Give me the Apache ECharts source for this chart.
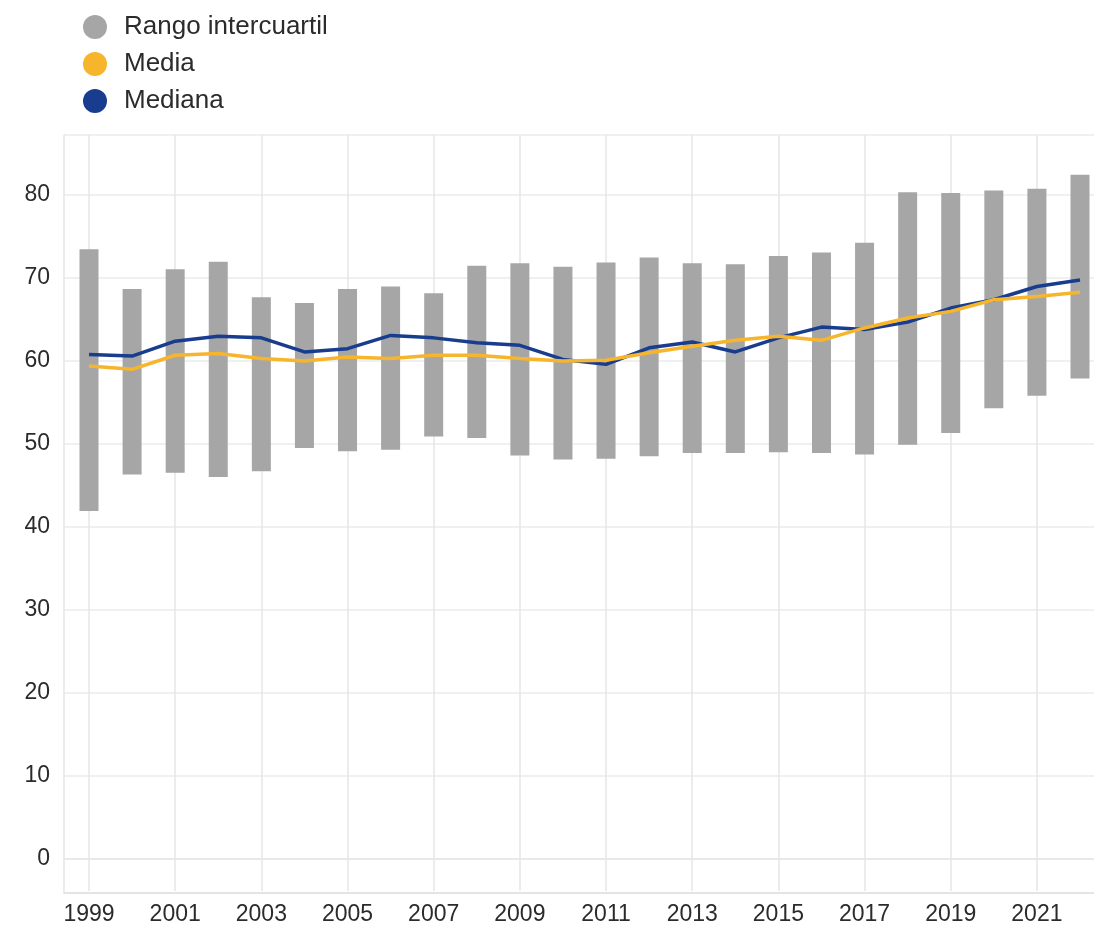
<!DOCTYPE html>
<html>
<head>
<meta charset="utf-8">
<script src="https://cdn.jsdelivr.net/npm/echarts@6/dist/echarts.min.js"></script>
<style>
  html, body { margin: 0; padding: 0; background: #fff; }
  #chart { width: 1094px; height: 926px; }
</style>
</head>
<body>
<div id="chart"></div>
<script>
// years on the x axis
var years = ['1999','2000','2001','2002','2003','2004','2005','2006','2007','2008','2009','2010',
             '2011','2012','2013','2014','2015','2016','2017','2018','2019','2020','2021','2022'];
// interquartile range: lower and upper quartile
var q1 = [41.8, 46.2, 46.4, 45.9, 46.6, 49.4, 49.0, 49.2, 50.8, 50.6, 48.5, 48.0,
          48.1, 48.4, 48.8, 48.8, 48.9, 48.8, 48.6, 49.8, 51.2, 54.2, 55.7, 57.8];
var q3 = [73.4, 68.6, 71.0, 71.9, 67.6, 66.9, 68.6, 68.9, 68.1, 71.4, 71.7, 71.3,
          71.8, 72.4, 71.7, 71.6, 72.6, 73.0, 74.2, 80.3, 80.2, 80.5, 80.7, 82.4];
// mean and median
var media = [59.3, 58.9, 60.6, 60.8, 60.2, 59.9, 60.4, 60.2, 60.6, 60.6, 60.2, 59.9,
             60.0, 60.9, 61.7, 62.4, 62.9, 62.4, 63.9, 65.1, 65.9, 67.3, 67.7, 68.2];
var mediana = [60.7, 60.5, 62.3, 62.9, 62.7, 61.0, 61.4, 63.0, 62.7, 62.1, 61.8, 60.1,
               59.5, 61.5, 62.2, 61.0, 62.7, 64.0, 63.7, 64.6, 66.3, 67.3, 68.9, 69.7];

var rango = q3.map(function (v, i) { return +(v - q1[i]).toFixed(1); });

var chart = echarts.init(document.getElementById('chart'));

var lab = { fontFamily: 'Liberation Sans, Arial, sans-serif', fontSize: 23, color: '#2b2b2b' };

option = {
    backgroundColor: '#fff',
    animation: false,
    legend: {
        orient: 'vertical',
        left: 78,
        top: 9,
        icon: 'circle',
        itemWidth: 24,
        itemHeight: 24,
        itemGap: 11,
        textStyle: {
            fontFamily: 'Liberation Sans, Arial, sans-serif',
            fontSize: 26,
            lineHeight: 24,
            color: '#2b2b2b',
            padding: [0, 0, 0, 12]
        },
        data: ['Rango intercuartil', 'Media', 'Mediana']
    },
    grid: [
        // data grid: 1999 sits on its tick
        { left: 89, right: 14, top: 135, bottom: 33 },
        // frame grid: horizontal lines, y labels, border
        { left: 64, right: 0, top: 135, bottom: 33 }
    ],
    xAxis: [
        {
            type: 'category',
            gridIndex: 0,
            data: years,
            boundaryGap: false,
            axisLine: { show: false },
            axisTick: { show: false },
            axisLabel: Object.assign({ interval: 1, margin: 12 }, lab),
            splitLine: { show: true, interval: 1, lineStyle: { color: '#e6e6e6', width: 1.5 } }
        },
        {
            type: 'value', gridIndex: 1, min: 0, max: 1, position: 'top',
            axisLine: { show: true, lineStyle: { color: '#e6e6e6', width: 1.5 } },
            axisTick: { show: false }, axisLabel: { show: false }, splitLine: { show: false }
        },
        {
            type: 'value', gridIndex: 1, min: 0, max: 1, position: 'bottom',
            axisLine: { show: true, lineStyle: { color: '#e0e0e0', width: 1.5 } },
            axisTick: { show: false }, axisLabel: { show: false }, splitLine: { show: false }
        }
    ],
    yAxis: [
        { type: 'value', gridIndex: 0, min: -4.1, max: 87.2, show: false },
        {
            type: 'value', gridIndex: 1, min: -4.1, max: 87.2, splitNumber: 9,
            axisLine: { show: true, lineStyle: { color: '#e6e6e6', width: 1.5 } },
            axisTick: { show: false },
            axisLabel: Object.assign({ margin: 14, showMinLabel: false, showMaxLabel: false }, lab),
            splitLine: { lineStyle: { color: '#ebebeb', width: 1.5 } }
        }
    ],
    series: [
        {
            name: 'base',
            type: 'bar',
            stack: 'iqr',
            barWidth: 19,
            clip: false,
            silent: true,
            itemStyle: { color: 'transparent' },
            data: q1
        },
        {
            name: 'Rango intercuartil',
            type: 'bar',
            stack: 'iqr',
            barWidth: 19,
            clip: false,
            itemStyle: { color: '#a6a6a6' },
            data: rango
        },
        {
            name: 'Mediana',
            type: 'line',
            symbol: 'none',
            color: '#183c8e',
            lineStyle: { width: 3.5 },
            data: mediana
        },
        {
            name: 'Media',
            type: 'line',
            symbol: 'none',
            color: '#f7b52b',
            lineStyle: { width: 3.5 },
            data: media
        }
    ]
};

chart.setOption(option);
</script>
</body>
</html>
